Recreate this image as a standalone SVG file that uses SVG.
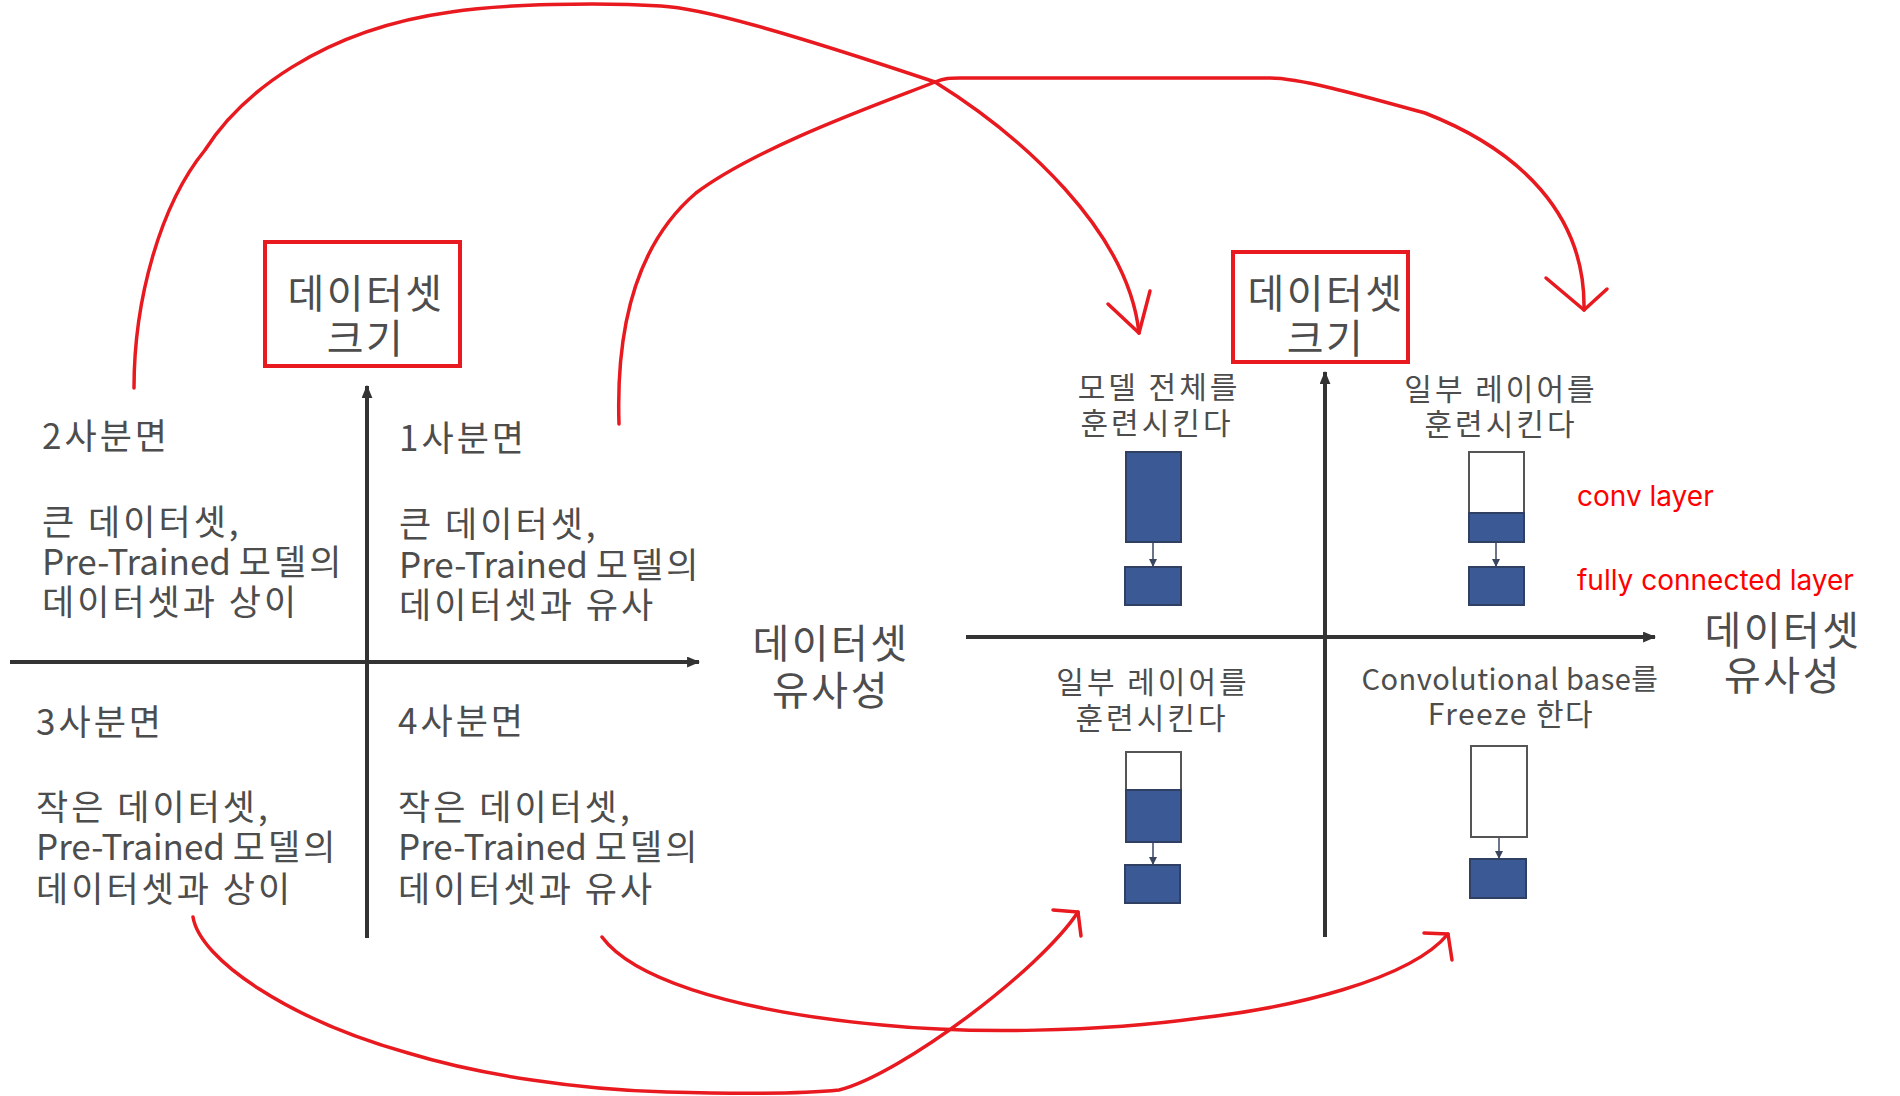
<svg xmlns="http://www.w3.org/2000/svg" width="1900" height="1096" viewBox="0 0 1900 1096">
<style>
.t{font-family:"Noto Sans CJK KR","Noto Sans",sans-serif;fill:#4d4d4d}
.q{font-size:35px;letter-spacing:3px}
.lat{letter-spacing:0}
.lbl{font-size:30px;text-anchor:middle;letter-spacing:3px}
.big{font-size:40px;text-anchor:middle;letter-spacing:2.5px}
.red{font-family:Inter,"Noto Sans",sans-serif;fill:#ff0000;font-size:28px}
.axis{stroke:#333;stroke-width:4;fill:none;marker-end:url(#ax)}
.box{fill:none;stroke:#e8191f;stroke-width:4}
.blue{fill:#3b5a95;stroke:#2f4063;stroke-width:2}
.wht{fill:#fff;stroke:#555;stroke-width:2}
.link{stroke:#3a4660;stroke-width:1.5;fill:none;marker-end:url(#sm)}
.rc{fill:none;stroke:#e8191f;stroke-width:3.5;stroke-linecap:round;stroke-linejoin:round}
</style>
<defs>
<marker id="ax" viewBox="0 0 12 10" refX="11" refY="5" markerWidth="13" markerHeight="11" markerUnits="userSpaceOnUse" orient="auto"><path d="M0,0 L12,5 L0,10 z" fill="#333"/></marker>
<marker id="sm" viewBox="0 0 8 8" refX="7" refY="4" markerWidth="8" markerHeight="8" markerUnits="userSpaceOnUse" orient="auto"><path d="M0,0 L8,4 L0,8 z" fill="#3a4660"/></marker>
</defs>
<rect width="1900" height="1096" fill="#fff"/>

<g id="left-axes">
<line class="axis" x1="367" y1="938" x2="367" y2="386"/>
<line class="axis" x1="10" y1="662" x2="699" y2="662"/>
</g>
<g id="left-size-label">
<rect class="box" x="265" y="242" width="195" height="124"/>
<text class="t big" x="366" y="308">데이터셋</text>
<text class="t big" x="366" y="353">크기</text>
</g>
<g id="q2">
<text class="t q" x="42" y="449">2사분면</text>
<text class="t q" x="42" y="535">큰 데이터셋,</text>
<text class="t q" x="42" y="575"><tspan class="lat">Pre-Trained </tspan>모델의</text>
<text class="t q" x="42" y="615">데이터셋과 상이</text>
</g>
<g id="q1">
<text class="t q" x="399" y="451">1사분면</text>
<text class="t q" x="399" y="537">큰 데이터셋,</text>
<text class="t q" x="399" y="578"><tspan class="lat">Pre-Trained </tspan>모델의</text>
<text class="t q" x="399" y="618">데이터셋과 유사</text>
</g>
<g id="q3">
<text class="t q" x="36" y="735">3사분면</text>
<text class="t q" x="36" y="820">작은 데이터셋,</text>
<text class="t q" x="36" y="860"><tspan class="lat">Pre-Trained </tspan>모델의</text>
<text class="t q" x="36" y="902">데이터셋과 상이</text>
</g>
<g id="q4">
<text class="t q" x="398" y="734">4사분면</text>
<text class="t q" x="398" y="820">작은 데이터셋,</text>
<text class="t q" x="398" y="860"><tspan class="lat">Pre-Trained </tspan>모델의</text>
<text class="t q" x="398" y="902">데이터셋과 유사</text>
</g>
<g id="left-sim-label">
<text class="t big" x="831" y="658">데이터셋</text>
<text class="t big" x="831" y="705">유사성</text>
</g>

<g id="right-axes">
<line class="axis" x1="1325" y1="937" x2="1325" y2="372"/>
<line class="axis" x1="966" y1="637" x2="1655" y2="637"/>
</g>
<g id="right-size-label">
<rect class="box" x="1233" y="252" width="175" height="110"/>
<text class="t big" x="1326" y="308">데이터셋</text>
<text class="t big" x="1326" y="353">크기</text>
</g>
<g id="right-sim-label">
<text class="t big" x="1783" y="645">데이터셋</text>
<text class="t big" x="1783" y="690">유사성</text>
</g>

<g id="r-q2">
<text class="t lbl" x="1159" y="398">모델 전체를</text>
<text class="t lbl" x="1157" y="434">훈련시킨다</text>
<rect class="blue" x="1126" y="452" width="55" height="90"/>
<rect class="blue" x="1125" y="567" width="56" height="38"/>
</g>
<g id="r-q1">
<text class="t lbl" x="1501" y="400">일부 레이어를</text>
<text class="t lbl" x="1501" y="435">훈련시킨다</text>
<rect class="wht" x="1469" y="452" width="55" height="61"/>
<rect class="blue" x="1469" y="513" width="55" height="29"/>
<rect class="blue" x="1469" y="567" width="55" height="38"/>
</g>
<g id="r-q3">
<text class="t lbl" x="1153" y="693">일부 레이어를</text>
<text class="t lbl" x="1152" y="729">훈련시킨다</text>
<rect class="wht" x="1126" y="752" width="55" height="38"/>
<rect class="blue" x="1126" y="790" width="55" height="52"/>
<rect class="blue" x="1125" y="865" width="55" height="38"/>
</g>
<g id="r-q4">
<text class="t lbl" x="1510" y="690" style="font-size:29px;letter-spacing:0.5px">Convolutional base를</text>
<text class="t lbl" x="1511" y="725" style="letter-spacing:1.5px">Freeze 한다</text>
<rect class="wht" x="1471" y="746" width="56" height="91"/>
<rect class="blue" x="1470" y="859" width="56" height="39"/>
</g>
<g id="annotations">
<text class="red" x="1577" y="506">conv layer</text>
<text class="red" x="1577" y="590">fully connected layer</text>
</g>

<g id="connectors">
<line class="link" x1="1153" y1="543" x2="1153" y2="566"/>
<line class="link" x1="1496" y1="543" x2="1496" y2="566"/>
<line class="link" x1="1153" y1="843" x2="1153" y2="864"/>
<line class="link" x1="1499" y1="838" x2="1499" y2="858"/>
<path class="rc" d="M134,388 C134,300 160,205 205,150 C240,95 320,30 451,12 C500,4 600,2 661,6 C700,8 780,30 935,82 C1020,135 1128,230 1139,333"/>
<path class="rc" d="M1108,304 L1139,333 L1150,291"/>
<path class="rc" d="M619,424 C616,330 635,245 696,193 C760,145 890,100 935,82 C945,78 950,78 960,78 L1270,78 C1300,78 1360,95 1425,113 C1520,150 1586,215 1584,310"/>
<path class="rc" d="M1546,278 L1584,310 L1607,289"/>
<path class="rc" d="M193,917 C200,960 290,1020 408,1053 C480,1075 580,1090 667,1092 C740,1094 800,1094 839,1090 C900,1075 1040,970 1078,912"/>
<path class="rc" d="M1053,910 L1078,912 L1081,936"/>
<path class="rc" d="M602,937 C630,975 720,1010 882,1025 C970,1034 1100,1032 1200,1018 C1290,1008 1410,980 1448,934"/>
<path class="rc" d="M1424,933 L1448,934 L1452,960"/>
</g>
</svg>
